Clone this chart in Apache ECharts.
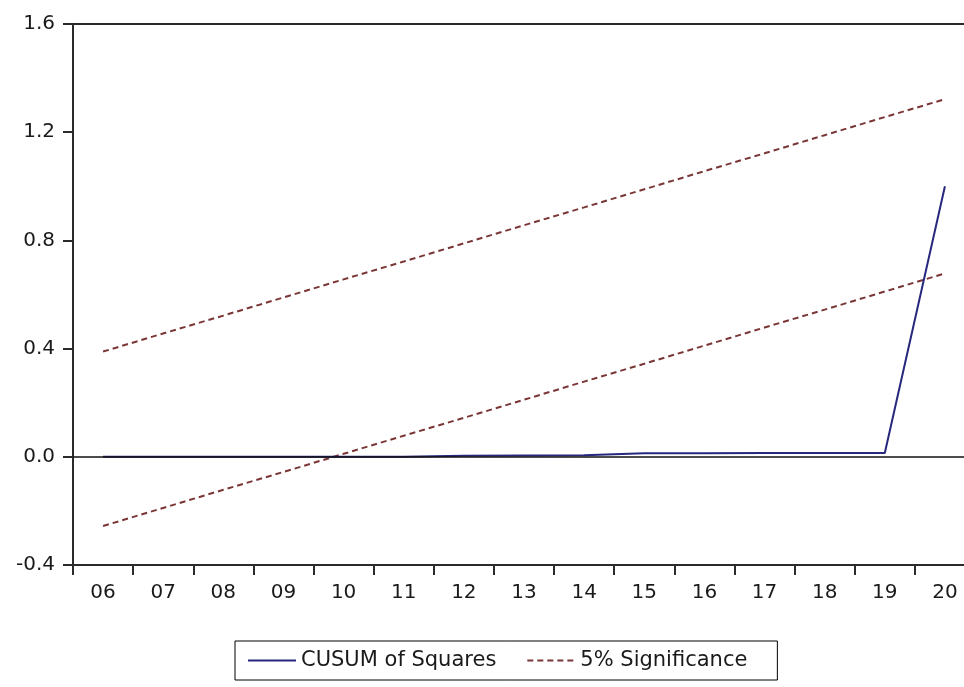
<!DOCTYPE html>
<html>
<head>
<meta charset="utf-8">
<script src="https://cdn.jsdelivr.net/npm/echarts@6/dist/echarts.min.js"></script>
<style>
  html, body { margin: 0; padding: 0; background: #fff; }
  #chart { width: 964px; height: 687px; }
</style>
</head>
<body>
<div id="chart"></div>
<script>
// Year labels (2006-2020) on the category axis
const years = ['06', '07', '08', '09', '10', '11', '12', '13', '14', '15', '16', '17', '18', '19', '20'];

// Cumulative sum of squared recursive residuals
const cusumSq = [0.000, 0.000, 0.000, 0.000, 0.000, 0.000, 0.004, 0.005, 0.006, 0.013, 0.013, 0.014, 0.014, 0.014, 1.000];

// 5% significance bounds
const upperBound = [0.389, 0.456, 0.522, 0.589, 0.656, 0.722, 0.789, 0.856, 0.922, 0.989, 1.056, 1.122, 1.189, 1.256, 1.322];
const lowerBound = [-0.256, -0.189, -0.122, -0.056, 0.011, 0.078, 0.144, 0.211, 0.278, 0.344, 0.411, 0.478, 0.544, 0.611, 0.678];

// Value-axis ticks
const yTicks = { min: -0.4, max: 1.6, step: 0.4 };

const frameColor = '#2b2b2b';
const textColor = '#1a1a1a';
const cusumColor = '#27277d';
const boundColor = '#7a3636';
const labelFont = 'DejaVu Sans';

const chart = echarts.init(document.getElementById('chart'), null, { renderer: 'canvas' });

chart.setOption({
  animation: false,
  backgroundColor: '#ffffff',
  grid: {
    left: 73,
    top: 24,
    width: 902,
    height: 541,
    outerBoundsMode: 'none',
    containLabel: false,
    show: true,
    borderColor: frameColor,
    borderWidth: 2,
    backgroundColor: '#ffffff'
  },
  legend: {
    left: 235,
    top: 641,
    orient: 'horizontal',
    padding: [9, 30, 9, 12],
    itemGap: 30,
    itemWidth: 48,
    itemHeight: 14,
    borderColor: '#000000',
    borderWidth: 1,
    backgroundColor: '#ffffff',
    itemStyle: { opacity: 0 },
    textStyle: { fontFamily: labelFont, fontSize: 21, color: textColor },
    data: ['CUSUM of Squares', '5% Significance']
  },
  xAxis: {
    type: 'category',
    data: years,
    boundaryGap: true,
    axisLine: { onZero: false, lineStyle: { color: frameColor, width: 2 } },
    axisTick: { show: true, inside: false, length: 10, alignWithLabel: false, lineStyle: { color: frameColor, width: 2 } },
    axisLabel: { margin: 18, fontFamily: labelFont, fontSize: 20, color: textColor, interval: 0 },
    splitLine: { show: false }
  },
  yAxis: {
    type: 'value',
    min: yTicks.min,
    max: yTicks.max,
    interval: yTicks.step,
    axisLine: { show: true, lineStyle: { color: frameColor, width: 2 } },
    axisTick: { show: true, inside: false, length: 10, lineStyle: { color: frameColor, width: 2 } },
    axisLabel: {
      margin: 18,
      fontFamily: labelFont,
      fontSize: 20,
      color: textColor,
      formatter: v => v.toFixed(1)
    },
    splitLine: { show: false }
  },
  series: [
    {
      name: '5% Significance',
      type: 'line',
      data: upperBound,
      z: 2,
      showSymbol: false,
      symbol: 'none',
      lineStyle: { color: boundColor, width: 2, type: [6, 4] },
      itemStyle: { color: boundColor },
      // horizontal reference line at zero
      markLine: {
        silent: true,
        symbol: 'none',
        label: { show: false },
        lineStyle: { color: '#111111', width: 1.6, type: 'solid' },
        data: [{ yAxis: 0 }]
      }
    },
    {
      name: '5% Significance',
      type: 'line',
      data: lowerBound,
      z: 2,
      showSymbol: false,
      symbol: 'none',
      lineStyle: { color: boundColor, width: 2, type: [6, 4] },
      itemStyle: { color: boundColor }
    },
    {
      name: 'CUSUM of Squares',
      type: 'line',
      data: cusumSq,
      z: 3,
      showSymbol: false,
      symbol: 'none',
      lineStyle: { color: cusumColor, width: 2 },
      itemStyle: { color: cusumColor }
    }
  ]
});
</script>
</body>
</html>
